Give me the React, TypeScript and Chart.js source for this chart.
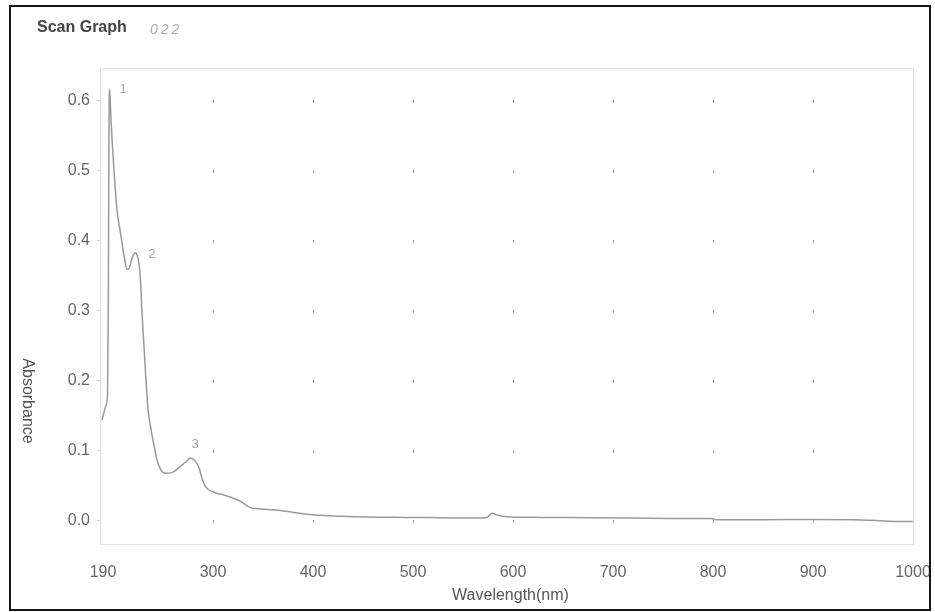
import React, { useEffect, useRef } from "react";
import { Chart, registerables } from "chart.js";

Chart.register(...registerables);

// Scanned spectrum (wavelength in nm, absorbance)
const wavelengths = [
  189, 191, 193, 194.5, 195.3, 195.8, 196.2, 196.6, 197.2, 198, 199.5, 201, 202.5, 204, 206.5,
  209, 211.5, 214, 216.5, 218.5, 220.5, 222.5, 224, 225.5, 227.5, 229, 231, 233, 235, 237.5,
  241, 244, 247.5, 252.5, 259, 266, 272.5, 277.5, 282.5, 286, 289, 292.5, 301, 311, 321,
  327.5, 332.5, 337.5, 347.5, 367.5, 380.5, 394, 420, 454, 494, 527, 561, 574, 579, 584,
  594, 627, 677, 720, 760, 798, 803, 850, 900, 940, 960, 975, 1000,
];
const absorbance = [
  0.144, 0.155, 0.165, 0.18, 0.3, 0.5, 0.6, 0.616, 0.6, 0.573, 0.535, 0.5, 0.47, 0.444, 0.42,
  0.397, 0.375, 0.359, 0.362, 0.373, 0.38, 0.383, 0.38, 0.372, 0.344, 0.297, 0.249, 0.201, 0.16, 0.135,
  0.108, 0.087, 0.074, 0.068, 0.069, 0.076, 0.084, 0.09, 0.085, 0.076, 0.061, 0.049, 0.041, 0.037, 0.032,
  0.028, 0.023, 0.019, 0.017, 0.015, 0.012, 0.0095, 0.007, 0.0055, 0.005, 0.0045, 0.004, 0.005, 0.011, 0.0085,
  0.006, 0.005, 0.0045, 0.004, 0.0035, 0.0035, 0.0018, 0.0018, 0.002, 0.0018, 0.0008, -0.0005, -0.001,
];

const xTicks = [190, 300, 400, 500, 600, 700, 800, 900, 1000];
const yTicks = [0, 0.1, 0.2, 0.3, 0.4, 0.5, 0.6];
const gridDotX = [300, 400, 500, 600, 700, 800, 900];

// hand-written peak marks
const peakMarks = ["1", "2", "3"];
const peakMarkX = [210, 239, 282];
const peakMarkY = [0.616, 0.38, 0.109];

const FONT = "'Liberation Sans', Arial, sans-serif";

export default function App() {
  const ref = useRef<HTMLCanvasElement | null>(null);

  useEffect(() => {
    const canvas = ref.current;
    if (!canvas) return;

    const decor = {
      id: "decor",
      beforeDatasetsDraw(chart: any) {
        const { ctx, chartArea } = chart;
        const xs = chart.scales.x;
        const ys = chart.scales.y;
        ctx.save();
        // faint plot box
        ctx.strokeStyle = "#e2e2e2";
        ctx.lineWidth = 1;
        ctx.strokeRect(
          Math.round(chartArea.left) + 0.5,
          Math.round(chartArea.top) + 0.5,
          Math.round(chartArea.right - chartArea.left),
          Math.round(chartArea.bottom - chartArea.top)
        );
        // grid dots
        ctx.fillStyle = "#9a9a9a";
        for (const gx of gridDotX) {
          for (const gy of yTicks) {
            const px = Math.round(xs.getPixelForValue(gx));
            const py = Math.round(ys.getPixelForValue(gy));
            ctx.fillRect(px, py - 1, 1, 3);
          }
        }
        ctx.restore();
      },
      afterDraw(chart: any) {
        const { ctx, chartArea } = chart;
        const xs = chart.scales.x;
        const ys = chart.scales.y;
        ctx.save();
        // title
        ctx.textBaseline = "middle";
        ctx.textAlign = "left";
        ctx.fillStyle = "#444";
        ctx.font = `bold 16px ${FONT}`;
        ctx.fillText("Scan Graph", 26, 21);
        ctx.fillStyle = "#aaa";
        ctx.font = `italic 14px ${FONT}`;
        (ctx as any).letterSpacing = "3px";
        ctx.fillText("022", 139, 23);
        (ctx as any).letterSpacing = "0px";
        // peak marks
        ctx.fillStyle = "#a8a8a8";
        ctx.font = `13px ${FONT}`;
        ctx.textAlign = "center";
        peakMarks.forEach((m, i) => {
          ctx.fillText(m, xs.getPixelForValue(peakMarkX[i]), ys.getPixelForValue(peakMarkY[i]));
        });
        // axis titles
        ctx.fillStyle = "#555";
        ctx.font = `16px ${FONT}`;
        ctx.textAlign = "center";
        ctx.fillText("Wavelength(nm)", (chartArea.left + chartArea.right) / 2 + 4, chartArea.bottom + 52);
        ctx.translate(16, (chartArea.top + chartArea.bottom) / 2 + 95);
        ctx.rotate(Math.PI / 2);
        ctx.fillText("Absorbance", 0, 0);
        ctx.restore();
      },
    };

    const chart = new Chart(canvas, {
      type: "line",
      data: {
        datasets: [
          {
            data: wavelengths.map((w, i) => ({ x: w, y: absorbance[i] })),
            borderColor: "#9a9a9a",
            borderWidth: 1.5,
            pointRadius: 0,
            fill: false,
            cubicInterpolationMode: "monotone",
          },
        ],
      },
      options: {
        animation: false,
        responsive: false,
        devicePixelRatio: 1,
        layout: { padding: { top: 61, right: 16, left: 0, bottom: 0 } },
        plugins: { legend: { display: false }, tooltip: { enabled: false }, title: { display: false } },
        scales: {
          x: {
            type: "linear",
            min: 187,
            max: 1000,
            afterBuildTicks: (s: any) => {
              s.ticks = xTicks.map((v) => ({ value: v }));
            },
            afterFit: (s: any) => {
              s.height = 65;
              s.paddingLeft = 0;
              s.paddingRight = 0;
            },
            grid: { display: false },
            border: { display: true, color: "#b0b0b0", width: 1 },
            ticks: {
              autoSkip: false,
              maxRotation: 0,
              padding: 11,
              color: "#666",
              font: { family: FONT, size: 16 },
              callback: (v: any) => String(v),
            },
          },
          y: {
            type: "linear",
            min: -0.033,
            max: 0.647,
            afterBuildTicks: (s: any) => {
              s.ticks = yTicks.map((v) => ({ value: v }));
            },
            afterFit: (s: any) => {
              s.width = 89;
              s.paddingTop = 0;
              s.paddingBottom = 0;
            },
            grid: { display: true, drawOnChartArea: false, drawTicks: true, tickLength: 3, color: "#cfcfcf" },
            border: { display: true, color: "#dcdcdc", width: 1 },
            ticks: {
              autoSkip: false,
              padding: 7,
              color: "#666",
              font: { family: FONT, size: 16 },
              callback: (v: any) => Number(v).toFixed(1),
            },
          },
        },
      },
      plugins: [decor],
    } as any);

    return () => chart.destroy();
  }, []);

  return (
    <div
      style={{
        position: "absolute",
        left: 9,
        top: 5,
        width: 922,
        height: 606,
        boxSizing: "border-box",
        border: "2px solid #151515",
        background: "#fff",
      }}
    >
      <canvas ref={ref} width={918} height={602} style={{ display: "block", width: 918, height: 602 }} />
    </div>
  );
}
